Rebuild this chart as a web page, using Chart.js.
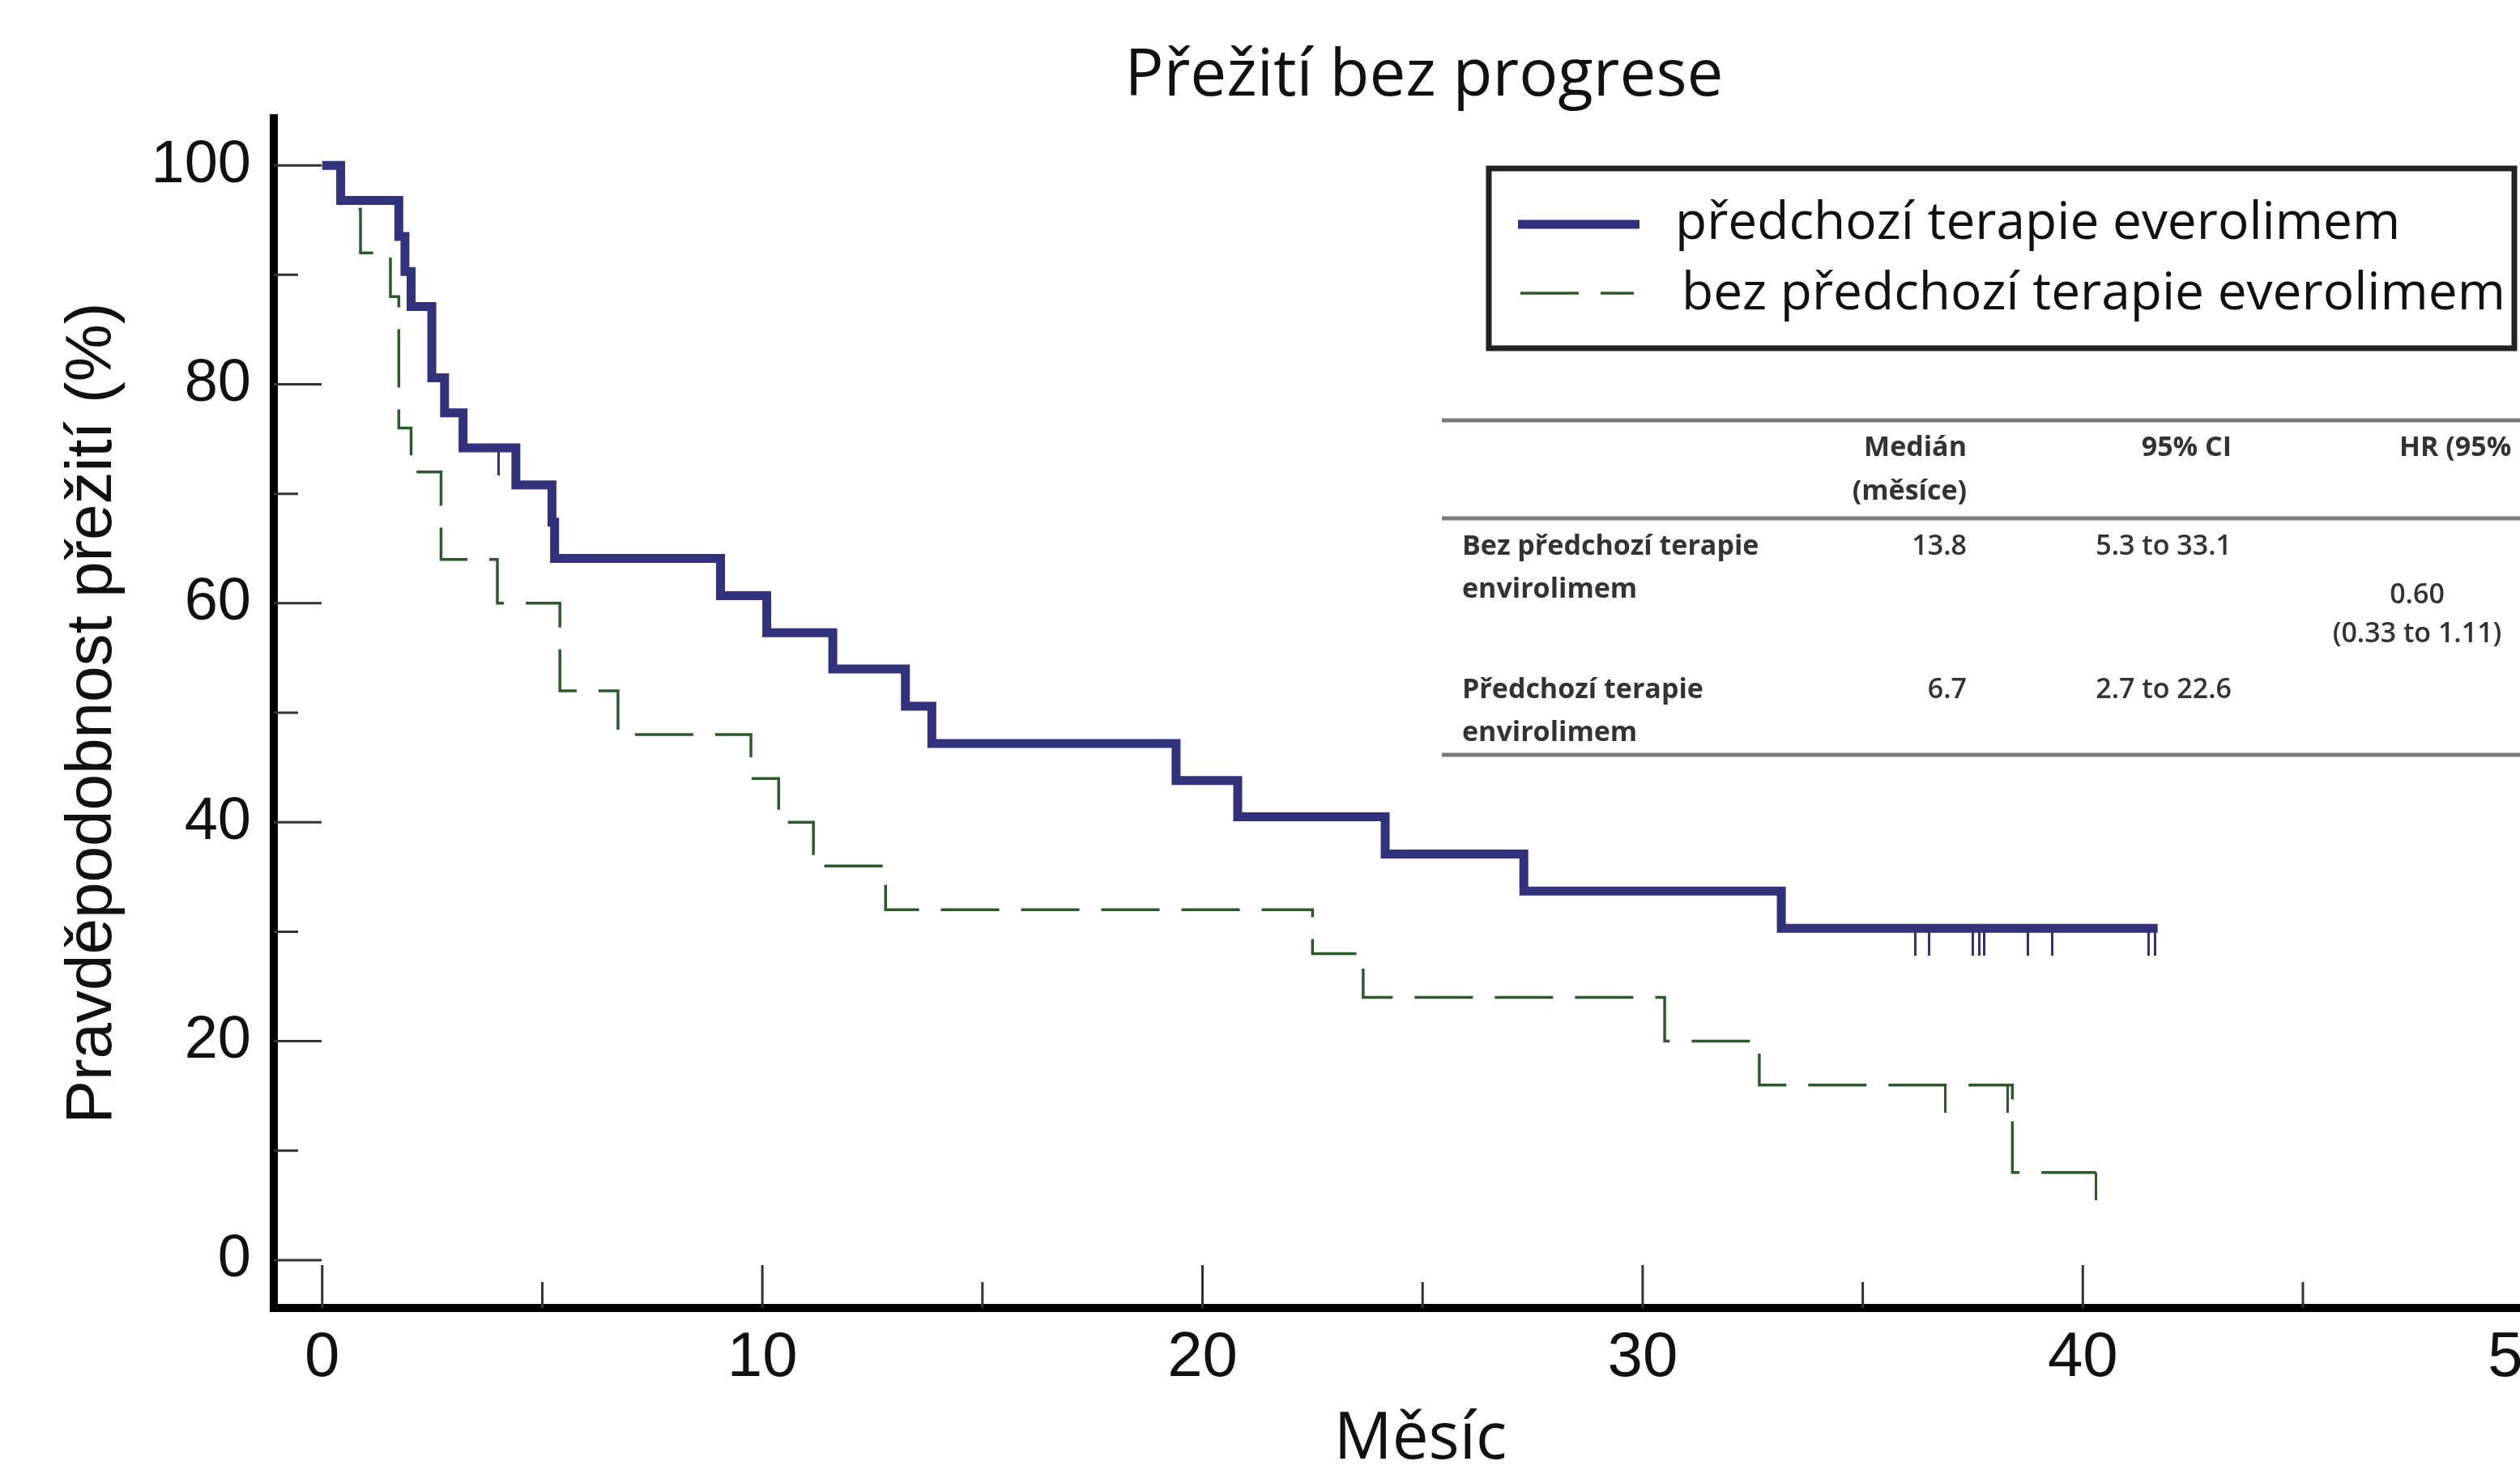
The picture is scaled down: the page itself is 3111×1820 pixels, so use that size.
<!DOCTYPE html>
<html>
<head>
<meta charset="utf-8">
<script src="https://cdn.jsdelivr.net/npm/chart.js@4.4.1/dist/chart.umd.min.js"></script>
<style>
html, body { margin: 0; padding: 0; background: #fff; overflow: hidden; width: 3111px; height: 1820px; }
#wrap { position: absolute; left: 0; top: 0; width: 3250px; height: 1820px; }
canvas { display: block; }
</style>
</head>
<body>
<div id="wrap"><canvas id="km" width="3250" height="1820"></canvas></div>
<script>
// ---------- data ----------
const chartTitle = 'Přežití bez progrese';
const xAxisTitle = 'Měsíc';
const yAxisTitle = 'Pravděpodobnost přežití (%)';
const seriesLabels = ['předchozí terapie everolimem', 'bez předchozí terapie everolimem'];

const xTicks = [0, 10, 20, 30, 40, 50];
const xMinorTicks = [5, 15, 25, 35, 45];
const yTicks = [0, 20, 40, 60, 80, 100];
const yMinorTicks = [10, 30, 50, 70, 90];

// předchozí terapie everolimem (solid)
const priorTimes = [0, 0.42, 1.74, 1.88, 2.02, 2.49, 2.78, 3.2, 4.4, 5.22, 5.28, 9.05, 10.1, 11.6, 13.25, 13.85, 19.4, 20.8, 24.15, 27.3, 33.15, 41.7];
const priorSurv  = [100, 96.8, 93.5, 90.3, 87.1, 80.6, 77.4, 74.2, 70.8, 67.4, 64.1, 60.7, 57.3, 54.0, 50.6, 47.2, 43.8, 40.5, 37.1, 33.7, 30.3, 30.3];
const priorCensorTimes = [4.0, 36.2, 36.5, 37.5, 37.65, 37.75, 38.75, 39.3, 41.5, 41.65];
const priorCensorSurv  = [74.2, 30.3, 30.3, 30.3, 30.3, 30.3, 30.3, 30.3, 30.3, 30.3];

// bez předchozí terapie everolimem (dashed)
const noPriorTimes = [0, 0.42, 0.87, 1.55, 1.74, 2.02, 2.7, 3.98, 5.4, 6.72, 9.74, 10.37, 11.16, 12.8, 22.5, 23.65, 30.5, 32.65, 38.4, 40.3];
const noPriorSurv  = [100, 96, 92, 88, 76, 72, 64, 60, 52, 48, 44, 40, 36, 32, 28, 24, 20, 16, 8, 8];
const noPriorCensorTimes = [36.87, 38.29, 40.3];
const noPriorCensorSurv  = [16, 16, 8];

// table
const tableHeader = [['Medián', '(měsíce)'], ['95% CI'], ['HR (95% CI)']];
const tableRowLabels = [['Bez předchozí terapie', 'envirolimem'], ['Předchozí terapie', 'envirolimem']];
const tableMedians = ['13.8', '6.7'];
const tableCI = ['5.3 to 33.1', '2.7 to 22.6'];
const tableHR = ['0.60', '(0.33 to 1.11)'];

// ---------- styles ----------
const BLUE = '#32327c';
const GREEN = '#2c5a2c';
const DASH = [72, 27];

function toXY(xs, ys) { return xs.map((x, i) => ({ x: x, y: ys[i] })); }

function censorMark(color, len, w) {
  const c = document.createElement('canvas');
  c.width = w; c.height = len * 2;
  const g = c.getContext('2d');
  g.fillStyle = color;
  g.fillRect(0, len, w, len);
  return c;
}

const decor = {
  id: 'decor',
  beforeDatasetsDraw(chart) {
    const { ctx, chartArea: a, scales: { x, y } } = chart;
    ctx.save();
    ctx.strokeStyle = '#333';
    ctx.lineWidth = 3;
    ctx.beginPath();
    xTicks.forEach(v => { const p = x.getPixelForValue(v); ctx.moveTo(p, a.bottom); ctx.lineTo(p, a.bottom - 53); });
    xMinorTicks.forEach(v => { const p = x.getPixelForValue(v); ctx.moveTo(p, a.bottom); ctx.lineTo(p, a.bottom - 32); });
    yTicks.forEach(v => { const p = y.getPixelForValue(v); ctx.moveTo(a.left, p); ctx.lineTo(a.left + 59, p); });
    yMinorTicks.forEach(v => { const p = y.getPixelForValue(v); ctx.moveTo(a.left, p); ctx.lineTo(a.left + 30, p); });
    ctx.stroke();
    ctx.restore();
  },
  afterDraw(chart) {
    const { ctx } = chart;
    ctx.save();
    // title
    ctx.fillStyle = '#111';
    ctx.font = '80px "Open Sans"';
    ctx.textAlign = 'center';
    ctx.textBaseline = 'alphabetic';
    ctx.fillText(chartTitle, 1758, 118);

    // legend box
    ctx.strokeStyle = '#222';
    ctx.lineWidth = 7;
    ctx.strokeRect(1838, 208, 1266, 222);
    const ds = chart.data.datasets;
    // item 1
    ctx.beginPath();
    ctx.strokeStyle = ds[0].borderColor; ctx.lineWidth = 11; ctx.setLineDash([]);
    ctx.moveTo(1874, 277); ctx.lineTo(2024, 277); ctx.stroke();
    // item 2
    ctx.beginPath();
    ctx.strokeStyle = ds[1].borderColor; ctx.lineWidth = 3.5; ctx.setLineDash(DASH);
    ctx.moveTo(1877, 362); ctx.lineTo(2017, 362); ctx.stroke();
    ctx.setLineDash([]);
    ctx.fillStyle = '#111';
    ctx.font = '64px "Open Sans"';
    ctx.textAlign = 'left';
    ctx.fillText(ds[0].label, 2068, 295);
    ctx.fillText(ds[1].label, 2076, 382);

    // table rules
    ctx.strokeStyle = '#7a7a7a';
    ctx.lineWidth = 5;
    [519, 640, 932].forEach(yy => { ctx.beginPath(); ctx.moveTo(1780, yy); ctx.lineTo(3250, yy); ctx.stroke(); });

    ctx.fillStyle = '#333';
    ctx.textBaseline = 'middle';
    // header
    ctx.font = 'bold 34px "Open Sans"';
    ctx.textAlign = 'right';
    ctx.fillText(tableHeader[0][0], 2428, 553);
    ctx.fillText(tableHeader[0][1], 2428, 607);
    ctx.fillText(tableHeader[1][0], 2755, 553);
    ctx.textAlign = 'left';
    ctx.fillText(tableHeader[2][0], 2962, 553);
    // row labels
    ctx.fillText(tableRowLabels[0][0], 1805, 675);
    ctx.fillText(tableRowLabels[0][1], 1805, 728);
    ctx.fillText(tableRowLabels[1][0], 1805, 852);
    ctx.fillText(tableRowLabels[1][1], 1805, 905);
    // values
    ctx.font = '600 34px "Open Sans"';
    ctx.textAlign = 'right';
    ctx.fillText(tableMedians[0], 2428, 675);
    ctx.fillText(tableMedians[1], 2428, 852);
    ctx.fillText(tableCI[0], 2755, 675);
    ctx.fillText(tableCI[1], 2755, 852);
    ctx.textAlign = 'center';
    ctx.fillText(tableHR[0], 2984, 735);
    ctx.fillText(tableHR[1], 2984, 783);
    ctx.restore();
  }
};

function build() {
  const ctx = document.getElementById('km').getContext('2d');
  new Chart(ctx, {
    type: 'line',
    data: {
      datasets: [
        { label: seriesLabels[0], data: toXY(priorTimes, priorSurv), borderColor: BLUE, borderWidth: 11,
          stepped: true, pointRadius: 0, borderJoinStyle: 'miter', borderCapStyle: 'butt', fill: false },
        { label: seriesLabels[1], data: toXY(noPriorTimes, noPriorSurv), borderColor: GREEN, borderWidth: 3.5,
          borderDash: DASH, stepped: true, pointRadius: 0, borderJoinStyle: 'miter', fill: false },
        { label: 'censor1', data: toXY(priorCensorTimes, priorCensorSurv), showLine: false,
          pointStyle: censorMark(BLUE, 34, 3), pointRadius: 2 },
        { label: 'censor2', data: toXY(noPriorCensorTimes, noPriorCensorSurv), showLine: false,
          pointStyle: censorMark(GREEN, 34, 3), pointRadius: 2 }
      ]
    },
    options: {
      responsive: false,
      animation: false,
      devicePixelRatio: 1,
      layout: { padding: { top: 146, left: 0, right: 81, bottom: 0 } },
      plugins: { legend: { display: false }, tooltip: { enabled: false }, title: { display: false } },
      scales: {
        x: {
          type: 'linear', min: -1.1, max: 51,
          grid: { display: false, drawTicks: false },
          border: { display: true, width: 10, color: '#000' },
          ticks: { color: '#111', padding: 16, maxRotation: 0,
                   font: { family: '"Liberation Sans", Arial', size: 78 } },
          afterBuildTicks: s => { s.ticks = xTicks.map(v => ({ value: v })); },
          afterFit: s => { s.height = 205; },
          title: { display: true, text: xAxisTitle, color: '#111',
                   font: { family: '"Open Sans"', size: 80, lineHeight: 1 }, padding: { top: 0, bottom: 2 } }
        },
        y: {
          type: 'linear', min: -4.37, max: 104.3,
          grid: { display: false, drawTicks: false },
          border: { display: true, width: 10, color: '#000' },
          ticks: { color: '#111', padding: 28,
                   font: { family: '"Liberation Sans", Arial', size: 74 } },
          afterBuildTicks: s => { s.ticks = yTicks.map(v => ({ value: v })); },
          afterFit: s => { s.width = 338; },
          title: { display: true, text: yAxisTitle, color: '#111',
                   font: { family: '"Liberation Sans", Arial', size: 80 }, padding: { top: 67, bottom: 0 } }
        }
      }
    },
    plugins: [decor]
  });
}

const fontsToLoad = ['80px "Open Sans"', 'bold 34px "Open Sans"', '600 34px "Open Sans"', '74px "Liberation Sans"'];
let built = false;
function go() { if (!built) { built = true; build(); } }
if (document.fonts && document.fonts.load) {
  Promise.all(fontsToLoad.map(f => document.fonts.load(f).catch(() => null))).then(go, go);
  setTimeout(go, 800);
} else { go(); }
</script>
</body>
</html>
